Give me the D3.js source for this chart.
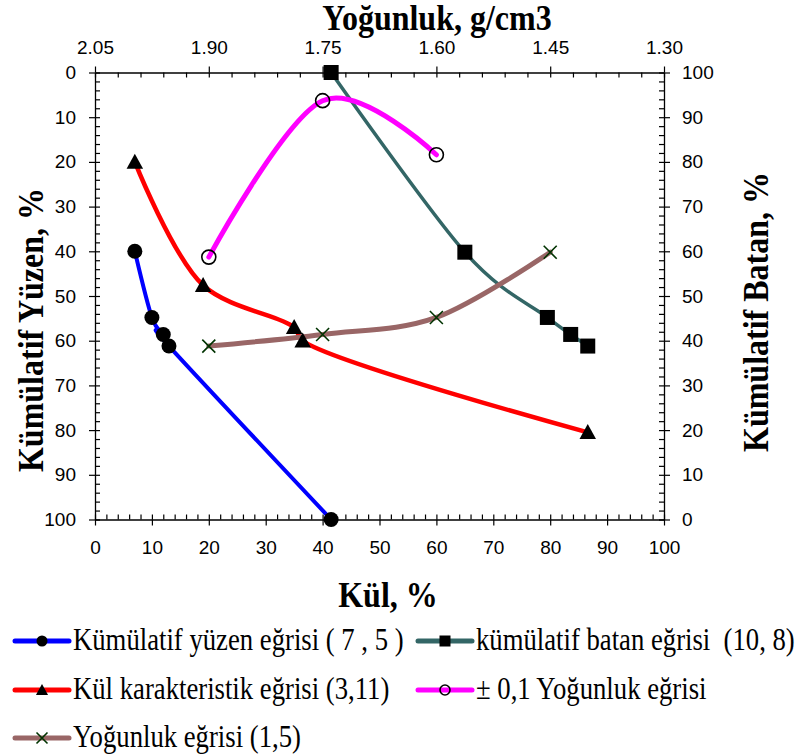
<!DOCTYPE html>
<html>
<head>
<meta charset="utf-8">
<script src="https://cdn.jsdelivr.net/npm/d3@7"></script>
<style>
  html, body { margin: 0; padding: 0; background: #fff; }
  svg { display: block; }
</style>
</head>
<body>
<svg id="chart" width="799" height="756"></svg>
<script>
// Kümülatif yüzen eğrisi: kül % vs kümülatif yüzen %
const yuzenKul   = [7, 10, 12, 13, 41.5];
const yuzenVerim = [40, 54.8, 58.6, 61.2, 100];

// Kümülatif batan eğrisi: kül % vs kümülatif batan % (sağ eksen)
const batanKul   = [41.5, 65, 79.5, 83.6, 86.6];
const batanVerim = [100, 59.8, 45.2, 41.4, 38.8];

// Kül karakteristik eğrisi: kül % vs kümülatif yüzen %
const karKul   = [7, 19, 35, 36.5, 86.6];
const karVerim = [20, 47.6, 57, 60, 80.5];

// ± 0,1 yoğunluk eğrisi: yoğunluk (üst eksen) vs %
const yakinYog   = [1.90, 1.75, 1.60];
const yakinVerim = [41.3, 6.3, 18.4];

// Yoğunluk eğrisi: yoğunluk (üst eksen) vs kümülatif yüzen %
const yogYog   = [1.90, 1.75, 1.60, 1.45];
const yogVerim = [61.2, 58.6, 54.8, 40.2];

// Eksen etiketleri
const kulTicks   = [0, 10, 20, 30, 40, 50, 60, 70, 80, 90, 100];
const yuzenTicks = [0, 10, 20, 30, 40, 50, 60, 70, 80, 90, 100];
const batanTicks = [0, 10, 20, 30, 40, 50, 60, 70, 80, 90, 100];
const yogTicks   = [2.05, 1.90, 1.75, 1.60, 1.45, 1.30];

const svg = d3.select("#chart");
const L = 95, R = 664, T = 72.5, B = 519.5;

const x = d3.scaleLinear().domain([0, 100]).range([L, R]);
const xTop = d3.scaleLinear().domain([2.05, 1.30]).range([L, R]);
const yL = d3.scaleLinear().domain([0, 100]).range([T, B]);
const yR = d3.scaleLinear().domain([0, 100]).range([B, T]);

const tickFont = "'Liberation Sans', Arial, sans-serif";
const serif = "'Liberation Serif', 'Times New Roman', serif";

function styleAxis(g) {
  g.selectAll("path.domain").attr("stroke", "#000").attr("stroke-width", 1.3);
  g.selectAll(".tick line").attr("stroke", "#000").attr("stroke-width", 1.2);
  g.selectAll(".tick text").attr("fill", "#000")
    .style("font-family", tickFont).style("font-size", "19px");
}

const minor2 = d3.range(0, 100.001, 2);
const minorTop = d3.range(0, 26).map(i => 2.05 - i * 0.03);

// İç küçük çentikler
svg.append("g").attr("transform", `translate(0,${B})`)
  .call(d3.axisTop(x).tickValues(minor2).tickSize(5).tickFormat(""))
  .call(g => g.select(".domain").remove()).call(styleAxis);
svg.append("g").attr("transform", `translate(0,${T})`)
  .call(d3.axisBottom(xTop).tickValues(minorTop).tickSize(5).tickFormat(""))
  .call(g => g.select(".domain").remove()).call(styleAxis);
svg.append("g").attr("transform", `translate(${L},0)`)
  .call(d3.axisRight(yL).tickValues(minor2).tickSize(5).tickFormat(""))
  .call(g => g.select(".domain").remove()).call(styleAxis);
svg.append("g").attr("transform", `translate(${R},0)`)
  .call(d3.axisLeft(yR).tickValues(minor2).tickSize(5).tickFormat(""))
  .call(g => g.select(".domain").remove()).call(styleAxis);

// Ana eksenler ve etiketler
svg.append("g").attr("transform", `translate(0,${B})`)
  .call(d3.axisBottom(x).tickValues(kulTicks).tickSize(6).tickSizeOuter(0).tickPadding(15).tickFormat(d3.format("d")))
  .call(styleAxis);
svg.append("g").attr("transform", `translate(0,${T})`)
  .call(d3.axisTop(xTop).tickValues(yogTicks).tickSize(6).tickSizeOuter(0).tickPadding(13).tickFormat(d3.format(".2f")))
  .call(styleAxis);
svg.append("g").attr("transform", `translate(${L},0)`)
  .call(d3.axisLeft(yL).tickValues(yuzenTicks).tickSize(6).tickSizeOuter(0).tickPadding(13).tickFormat(d3.format("d")))
  .call(styleAxis);
svg.append("g").attr("transform", `translate(${R},0)`)
  .call(d3.axisRight(yR).tickValues(batanTicks).tickSize(6).tickSizeOuter(0).tickPadding(12).tickFormat(d3.format("d")))
  .call(styleAxis);

// Eksen başlıkları
const titleStyle = t => t.attr("font-family", serif).attr("font-weight", "bold")
  .attr("font-size", 32).attr("fill", "#000").attr("text-anchor", "middle");
svg.append("text").attr("transform", "translate(437,30) scale(1,1.1)").text("Yoğunluk, g/cm3").call(titleStyle);
svg.append("text").attr("transform", "translate(388,607) scale(1,1.1)").text("Kül, %").call(titleStyle);
svg.append("text").attr("transform", "translate(43,330) rotate(-90) scale(1,1.15)").text("Kümülatif Yüzen, %").call(titleStyle);
svg.append("text").attr("transform", "translate(768,312) rotate(-90) scale(1,1.1)").text("Kümülatif Batan, %").call(titleStyle);

// Marker çizimleri
const markers = {
  circle: (g, s) => g.append("circle").attr("r", s / 2).attr("fill", "#000"),
  square: (g, s) => g.append("rect").attr("x", -s / 2).attr("y", -s / 2).attr("width", s).attr("height", s).attr("fill", "#000"),
  triangle: (g, s) => g.append("path").attr("d", `M0,${-s * 0.55}L${s * 0.55},${s * 0.45}L${-s * 0.55},${s * 0.45}Z`).attr("fill", "#000"),
  open: (g, s) => g.append("circle").attr("r", s / 2).attr("fill", "none").attr("stroke", "#000").attr("stroke-width", 1.6),
  cross: (g, s) => g.append("path").attr("d", `M${-s / 2},${-s / 2}L${s / 2},${s / 2}M${s / 2},${-s / 2}L${-s / 2},${s / 2}`)
    .attr("stroke", "#003300").attr("stroke-width", 1.6).attr("fill", "none")
};

// Yumuşatılmış çizgiler; yakın noktalarda ilmek oluşmaması için merkezcil
const smooth = d3.curveCatmullRom.alpha(0);
const smoothCentripetal = d3.curveCatmullRom.alpha(0.5);

const series = [
  { name: "Kümülatif yüzen eğrisi ( 7 , 5 )", xs: yuzenKul, ys: yuzenVerim, sx: x, sy: yL, color: "#0000ff", w: 4, marker: "circle", size: 15, curve: smooth },
  { name: "kümülatif batan eğrisi  (10, 8)", xs: batanKul, ys: batanVerim, sx: x, sy: yR, color: "#336666", w: 3.5, marker: "square", size: 15, curve: smooth },
  { name: "Kül karakteristik eğrisi (3,11)", xs: karKul, ys: karVerim, sx: x, sy: yL, color: "#ff0000", w: 4.5, marker: "triangle", size: 15, curve: smoothCentripetal },
  { name: "± 0,1 Yoğunluk eğrisi", xs: yakinYog, ys: yakinVerim, sx: xTop, sy: yL, color: "#ff00ff", w: 5, marker: "open", size: 14, curve: smooth },
  { name: "Yoğunluk eğrisi (1,5)", xs: yogYog, ys: yogVerim, sx: xTop, sy: yL, color: "#996666", w: 5, marker: "cross", size: 13, curve: smooth }
];

const plot = svg.append("g");
series.forEach(s => {
  const pts = s.xs.map((v, i) => [s.sx(v), s.sy(s.ys[i])]);
  plot.append("path")
    .attr("d", d3.line().curve(s.curve)(pts))
    .attr("fill", "none").attr("stroke", s.color).attr("stroke-width", s.w)
    .attr("stroke-linecap", "round");
});
series.forEach(s => {
  s.xs.forEach((v, i) => {
    const g = plot.append("g").attr("transform", `translate(${s.sx(v)},${s.sy(s.ys[i])})`);
    markers[s.marker](g, s.size);
  });
});

// Gösterge
const legendPos = [
  { x: 15, y: 641 }, { x: 418, y: 641 },
  { x: 15, y: 690 }, { x: 418, y: 690 },
  { x: 15, y: 738 }
];
series.forEach((s, i) => {
  const p = legendPos[i];
  const g = svg.append("g").attr("transform", `translate(${p.x},${p.y})`);
  g.append("line").attr("x1", 0).attr("x2", 54).attr("y1", 0).attr("y2", 0)
    .attr("stroke", s.color).attr("stroke-width", 5).attr("stroke-linecap", "round");
  const m = g.append("g").attr("transform", "translate(27,0)");
  markers[s.marker](m, s.marker === "open" ? 10 : 11);
  g.append("text").attr("transform", "translate(58,9) scale(1,1.2)")
    .attr("font-family", serif).attr("font-size", 26.7).attr("fill", "#000")
    .attr("xml:space", "preserve")
    .text(s.name);
});
</script>
</body>
</html>
